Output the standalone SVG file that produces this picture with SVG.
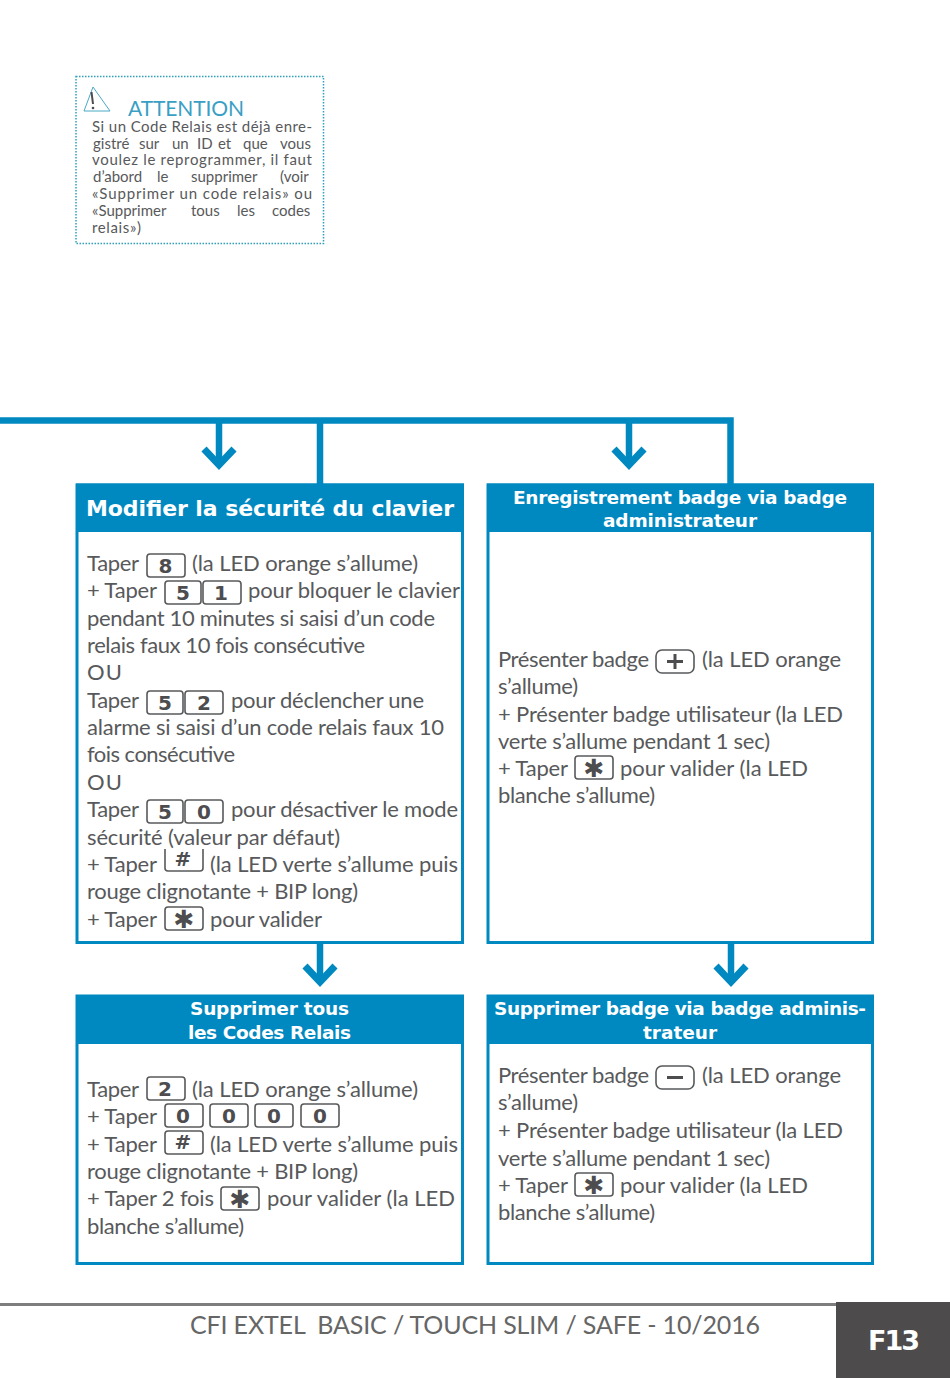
<svg xmlns="http://www.w3.org/2000/svg" width="950" height="1378" viewBox="0 0 950 1378">
<style>
.b{fill:#fff;stroke:#0089c0;stroke-width:3}
.h{fill:#0089c0}
.ht{font:700 18.5px "DejaVu Sans",sans-serif;fill:#fff;text-anchor:middle}
.t{font:400 22px Lato,"Open Sans",sans-serif;fill:#58595b}
.k{fill:#fff;stroke:#58595b;stroke-width:1.6}
.d{font:700 20px "DejaVu Sans",sans-serif;fill:#4d4d4f;text-anchor:middle}
.s{font:700 25px "DejaVu Sans",sans-serif;fill:#4d4d4f;text-anchor:middle}
.n{font:400 15px Lato,"Open Sans",sans-serif;fill:#58595b}
.c{fill:none;stroke:#0089c0;stroke-width:6.5}
.a{fill:none;stroke:#0089c0;stroke-width:7}
</style>
<defs>
<polyline id="chev" class="a" points="-15,-16 0,0 15,-16"/>
</defs>
<rect width="950" height="1378" fill="#fff"/>

<g id="note">
<rect x="76" y="76.500" width="247.500" height="167" fill="none" stroke="#2f9fbd" stroke-width="1.500" stroke-dasharray="1.500 1.500"/>
<polygon points="84,111 93,87 110,111" fill="none" stroke="#4aa9c6" stroke-width="1"/>
<path d="M91.500 92L93 104" stroke="#4d4d4f" stroke-width="2" fill="none"/>
<circle cx="93" cy="108" r="1.300" fill="#4d4d4f"/>
<text x="128" y="116" font-family="Lato,sans-serif" font-size="21" fill="#3a9fc4" textLength="116">ATTENTION</text>
<text class="n" x="92" y="132" textLength="220">Si un Code Relais est déjà enre-</text>
<text class="n" y="149"><tspan x="93">gistré</tspan><tspan x="139">sur</tspan><tspan x="172">un</tspan><tspan x="197">ID</tspan><tspan x="218">et</tspan><tspan x="243">que</tspan><tspan x="280">vous</tspan></text>
<text class="n" x="92" y="165" textLength="220">voulez le reprogrammer, il faut</text>
<text class="n" y="182"><tspan x="93">d’abord</tspan><tspan x="157">le</tspan><tspan x="191">supprimer</tspan><tspan x="280">(voir</tspan></text>
<text class="n" x="92" y="199" textLength="220">«Supprimer un code relais» ou</text>
<text class="n" y="216"><tspan x="92">«Supprimer</tspan><tspan x="191">tous</tspan><tspan x="237">les</tspan><tspan x="272">codes</tspan></text>
<text class="n" x="92" y="233" textLength="49">relais»)</text>
</g>

<g id="connectors">
<path class="c" d="M0 420.500H730.500V484M320 420.500V484M219 421V462M629 421V462M320 943V980M731 943V980"/>
<use href="#chev" x="219" y="465"/>
<use href="#chev" x="629" y="465"/>
<use href="#chev" x="320" y="982"/>
<use href="#chev" x="731" y="982"/>
</g>

<g id="node-securite">
<rect class="b" x="77" y="485" width="385.500" height="457.500"/>
<rect class="h" x="76" y="483.500" width="388" height="48.500"/>
<text x="86" y="516" font-family="DejaVu Sans,sans-serif" font-weight="700" font-size="22" fill="#fff" textLength="368">Modifier la sécurité du clavier</text>
<text class="t" x="87" y="571" textLength="52">Taper</text>
<rect class="k" x="147" y="554" width="38" height="23" rx="3"/><text class="d" x="165.500" y="573">8</text>
<text class="t" x="192" y="571" textLength="226">(la LED orange s’allume)</text>
<text class="t" x="87" y="598" textLength="70">+ Taper</text>
<rect class="k" x="165" y="581" width="36" height="23" rx="3"/><text class="d" x="183" y="600">5</text>
<rect class="k" x="203" y="581" width="38" height="23" rx="3"/><text class="d" x="221" y="600">1</text>
<text class="t" x="248" y="598" textLength="212">pour bloquer le clavier</text>
<text class="t" x="87" y="626" textLength="348">pendant 10 minutes si saisi d’un code</text>
<text class="t" x="87" y="653" textLength="278">relais faux 10 fois consécutive</text>
<text class="t" x="87" y="680" textLength="35">OU</text>
<text class="t" x="87" y="708" textLength="52">Taper</text>
<rect class="k" x="147" y="691" width="36" height="23" rx="3"/><text class="d" x="165" y="710">5</text>
<rect class="k" x="185" y="691" width="38" height="23" rx="3"/><text class="d" x="204" y="710">2</text>
<text class="t" x="231" y="708" textLength="193">pour déclencher une</text>
<text class="t" x="87" y="735" textLength="357">alarme si saisi d’un code relais faux 10</text>
<text class="t" x="87" y="762" textLength="148">fois consécutive</text>
<text class="t" x="87" y="790" textLength="35">OU</text>
<text class="t" x="87" y="817" textLength="52">Taper</text>
<rect class="k" x="147" y="800" width="36" height="23" rx="3"/><text class="d" x="165" y="819">5</text>
<rect class="k" x="185" y="800" width="38" height="23" rx="3"/><text class="d" x="204" y="819">0</text>
<text class="t" x="231" y="817" textLength="227">pour désactiver le mode</text>
<text class="t" x="87" y="845" textLength="253">sécurité (valeur par défaut)</text>
<text class="t" x="87" y="872" textLength="70">+ Taper</text>
<path class="k" d="M165 849V868a3 3 0 0 0 3 3H200a3 3 0 0 0 3-3V849"/><text class="d" x="183" y="866">#</text>
<text class="t" x="210" y="872" textLength="248">(la LED verte s’allume puis</text>
<text class="t" x="87" y="899" textLength="271">rouge clignotante + BIP long)</text>
<text class="t" x="87" y="927" textLength="70">+ Taper</text>
<rect class="k" x="165" y="907" width="38" height="23" rx="3"/><text class="s" x="184" y="928">✱</text>
<text class="t" x="210" y="927" textLength="112">pour valider</text>
</g>

<g id="node-enregistrement">
<rect class="b" x="488" y="485" width="384.500" height="457.500"/>
<rect class="h" x="487" y="483.500" width="387" height="48.500"/>
<text class="ht" x="680" y="504" textLength="334">Enregistrement  badge via badge</text>
<text class="ht" x="680" y="527" textLength="154">administrateur</text>
<text class="t" x="498" y="667" textLength="151">Présenter badge</text>
<rect class="k" x="656" y="650" width="38" height="23" rx="6"/><path d="M667 661.500H683M675 654V669" stroke="#4d4d4f" stroke-width="3" fill="none"/>
<text class="t" x="702" y="667" textLength="139">(la LED orange</text>
<text class="t" x="498" y="694" textLength="80">s’allume)</text>
<text class="t" x="498" y="722" textLength="345">+ Présenter badge utilisateur (la LED</text>
<text class="t" x="498" y="749" textLength="272">verte s’allume pendant 1 sec)</text>
<text class="t" x="498" y="776" textLength="70">+ Taper</text>
<rect class="k" x="575" y="756" width="38" height="23" rx="3"/><text class="s" x="594" y="777">✱</text>
<text class="t" x="620" y="776" textLength="188">pour valider (la LED</text>
<text class="t" x="498" y="803" textLength="157">blanche s’allume)</text>
</g>

<g id="node-supprimer-codes">
<rect class="b" x="77" y="996" width="385.500" height="267.500"/>
<rect class="h" x="76" y="995" width="388" height="49"/>
<text class="ht" x="269.500" y="1015" textLength="159">Supprimer tous</text>
<text class="ht" x="269.500" y="1039" textLength="163">les Codes Relais</text>
<text class="t" x="87" y="1097" textLength="52">Taper</text>
<rect class="k" x="147" y="1077" width="38" height="23" rx="3"/><text class="d" x="165" y="1096">2</text>
<text class="t" x="192" y="1097" textLength="226">(la LED orange s’allume)</text>
<text class="t" x="87" y="1124" textLength="70">+ Taper</text>
<rect class="k" x="165" y="1104" width="38" height="23" rx="3"/><text class="d" x="183" y="1123">0</text>
<rect class="k" x="210" y="1104" width="38" height="23" rx="3"/><text class="d" x="229" y="1123">0</text>
<rect class="k" x="255" y="1104" width="38" height="23" rx="3"/><text class="d" x="274" y="1123">0</text>
<rect class="k" x="301" y="1104" width="38" height="23" rx="3"/><text class="d" x="320" y="1123">0</text>
<text class="t" x="87" y="1152" textLength="70">+ Taper</text>
<rect class="k" x="165" y="1131" width="38" height="23" rx="3"/><text class="d" x="183" y="1149">#</text>
<text class="t" x="210" y="1152" textLength="248">(la LED verte s’allume puis</text>
<text class="t" x="87" y="1179" textLength="271">rouge clignotante + BIP long)</text>
<text class="t" x="87" y="1206" textLength="127">+ Taper 2 fois</text>
<rect class="k" x="221" y="1187" width="38" height="23" rx="3"/><text class="s" x="240" y="1208">✱</text>
<text class="t" x="267" y="1206" textLength="188">pour valider (la LED</text>
<text class="t" x="87" y="1234" textLength="157">blanche s’allume)</text>
</g>

<g id="node-supprimer-badge">
<rect class="b" x="488" y="996" width="384.500" height="267.500"/>
<rect class="h" x="487" y="995" width="387" height="49"/>
<text class="ht" x="680" y="1015" textLength="372">Supprimer badge via badge adminis-</text>
<text class="ht" x="680" y="1039" textLength="74">trateur</text>
<text class="t" x="498" y="1083" textLength="151">Présenter badge</text>
<rect class="k" x="656" y="1066" width="38" height="23" rx="6"/><path d="M667 1077.500H683" stroke="#4d4d4f" stroke-width="3" fill="none"/>
<text class="t" x="702" y="1083" textLength="139">(la LED orange</text>
<text class="t" x="498" y="1110" textLength="80">s’allume)</text>
<text class="t" x="498" y="1138" textLength="345">+ Présenter badge utilisateur (la LED</text>
<text class="t" x="498" y="1166" textLength="272">verte s’allume pendant 1 sec)</text>
<text class="t" x="498" y="1193" textLength="70">+ Taper</text>
<rect class="k" x="575" y="1173" width="38" height="23" rx="3"/><text class="s" x="594" y="1194">✱</text>
<text class="t" x="620" y="1193" textLength="188">pour valider (la LED</text>
<text class="t" x="498" y="1220" textLength="157">blanche s’allume)</text>
</g>

<g id="footer">
<rect x="0" y="1303" width="836" height="3" fill="#7d7d7d"/>
<text x="190" y="1334" font-family="Lato,sans-serif" font-size="25" fill="#666" textLength="570" xml:space="preserve">CFI EXTEL  BASIC / TOUCH SLIM / SAFE - 10/2016</text>
<rect x="836" y="1302" width="114" height="76" fill="#4d4b4c"/>
<text x="868" y="1350" font-family="DejaVu Sans,sans-serif" font-weight="700" font-size="27" fill="#fff" textLength="52">F13</text>
</g>
</svg>
